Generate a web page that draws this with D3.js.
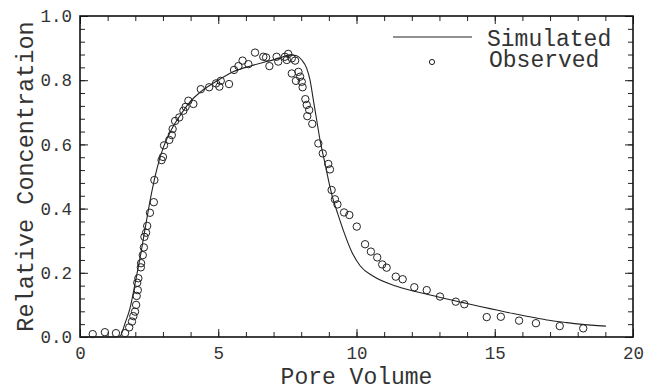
<!DOCTYPE html>
<html>
<head>
<meta charset="utf-8">
<script src="https://cdn.jsdelivr.net/npm/d3@7/dist/d3.min.js"></script>
<style>
  body { margin: 0; background: #fff; }
  text { font-family: "Liberation Mono", "Courier New", monospace; fill: #333; }
</style>
</head>
<body>
<script>
// pore volume / relative concentration, observed points
const obsX = [0.46, 0.90, 1.30, 1.63, 1.78, 1.88, 1.93, 1.99, 2.03, 2.05, 2.09, 2.07, 2.11, 2.20, 2.21, 2.27, 2.31, 2.33, 2.39, 2.43, 2.53, 2.67,
  2.69, 2.95, 3.00, 3.04, 3.23, 3.32, 3.35, 3.44, 3.59, 3.74, 3.82, 3.92, 4.10, 4.37, 4.67, 4.92, 5.09, 5.04, 5.39, 5.57, 5.73, 5.88, 6.09,
  6.33, 6.63, 6.73, 6.85, 7.11, 7.17, 7.41, 7.48, 7.53, 7.66, 7.78, 7.66, 7.90, 7.96, 7.81, 8.02, 8.05, 8.15, 8.20, 8.29, 8.22, 8.40,
  8.62, 8.78, 8.98, 9.04, 9.10, 9.22, 9.31, 9.55, 9.74, 10.01, 10.31, 10.52, 10.75, 10.93, 11.09, 11.42, 11.67, 12.09, 12.54, 13.02,
  13.59, 13.90, 14.71, 15.22, 15.88, 16.49, 17.35, 18.20];
const obsY = [0.009, 0.015, 0.012, 0.012, 0.030, 0.048, 0.065, 0.079, 0.100, 0.128, 0.146, 0.169, 0.183, 0.217, 0.230, 0.255, 0.279, 0.312, 0.325, 0.346, 0.387, 0.420,
  0.489, 0.551, 0.561, 0.597, 0.614, 0.629, 0.648, 0.673, 0.684, 0.705, 0.717, 0.736, 0.726, 0.772, 0.778, 0.790, 0.798, 0.780, 0.788, 0.832, 0.844, 0.861, 0.850,
  0.886, 0.873, 0.871, 0.844, 0.873, 0.858, 0.873, 0.863, 0.882, 0.868, 0.861, 0.821, 0.826, 0.811, 0.798, 0.795, 0.778, 0.741, 0.723, 0.707, 0.688, 0.664,
  0.603, 0.572, 0.539, 0.522, 0.458, 0.429, 0.413, 0.388, 0.380, 0.344, 0.289, 0.266, 0.248, 0.226, 0.216, 0.188, 0.180, 0.155, 0.146, 0.126,
  0.110, 0.102, 0.062, 0.063, 0.051, 0.043, 0.034, 0.027];

// simulated curve
const simX = [0, 1.2, 1.45, 1.63, 1.81, 2.0, 2.2, 2.4, 2.59, 2.8, 3.01, 3.3, 3.62, 4.0, 4.34, 5.0, 5.54, 6.2, 6.75, 7.2, 7.59, 7.84, 8.02,
  8.2, 8.32, 8.44, 8.56, 8.68, 8.86, 9.04, 9.16, 9.28, 9.52, 9.83, 10.13, 10.61, 11.45, 12.66, 13.86, 14.47, 15.07, 15.67, 16.27, 16.88,
  17.5, 18.08, 19.02];
const simY = [0, 0, 0.003, 0.043, 0.09, 0.17, 0.26, 0.36, 0.45, 0.53, 0.59, 0.645, 0.69, 0.735, 0.762, 0.800, 0.826, 0.845, 0.858, 0.868, 0.879, 0.876, 0.863,
  0.837, 0.80, 0.738, 0.676, 0.614, 0.541, 0.468, 0.427, 0.395, 0.333, 0.265, 0.222, 0.189, 0.158, 0.131, 0.107, 0.095, 0.084, 0.073, 0.063, 0.053,
  0.046, 0.040, 0.034];

const xTicks = [0, 5, 10, 15, 20];
const yTicks = [0, 0.2, 0.4, 0.6, 0.8, 1.0];
const legendLabels = ["Simulated", "Observed"];

const w = 656, h = 388;
const pL = 80, pR = 633, pT = 16, pB = 337;

const svg = d3.select("body").append("svg").attr("width", w).attr("height", h);

const x = d3.scaleLinear().domain([0, 20]).range([pL, pR]);
const y = d3.scaleLinear().domain([0, 1]).range([pB, pT]);

// minor + major ticks, all pointing inward
const xMinor = d3.range(0, 21, 1);
const yMinor = d3.range(0, 1.0001, 0.04);

function tickG(axis, pos, len) {
  return svg.append("g").attr("transform", pos).call(axis.tickSize(len).tickFormat(""))
    .call(g => g.select(".domain").remove())
    .call(g => g.selectAll("line").attr("stroke", "#222").attr("stroke-width", 1));
}
tickG(d3.axisTop(x).tickValues(xMinor), `translate(0,${pB})`, 5);
tickG(d3.axisTop(x).tickValues(xTicks), `translate(0,${pB})`, 8);
tickG(d3.axisBottom(x).tickValues(xMinor), `translate(0,${pT})`, 5);
tickG(d3.axisBottom(x).tickValues(xTicks), `translate(0,${pT})`, 8);
tickG(d3.axisRight(y).tickValues(yMinor), `translate(${pL},0)`, 5);
tickG(d3.axisRight(y).tickValues(yTicks), `translate(${pL},0)`, 8);
tickG(d3.axisLeft(y).tickValues(yMinor), `translate(${pR},0)`, 5);
tickG(d3.axisLeft(y).tickValues(yTicks), `translate(${pR},0)`, 8);

// tick labels
svg.append("g").attr("transform", `translate(0,${pB})`)
  .call(d3.axisBottom(x).tickValues(xTicks).tickSize(0).tickPadding(10).tickFormat(d3.format("d")))
  .call(g => g.select(".domain").remove())
  .selectAll("text").style("font-size", "17.5px").style("font-family", "Liberation Mono").attr("fill", "#333");

svg.append("g").attr("transform", `translate(${pL},0)`)
  .call(d3.axisLeft(y).tickValues(yTicks).tickSize(0).tickPadding(8).tickFormat(d3.format(".1f")))
  .call(g => g.select(".domain").remove())
  .selectAll("text").style("font-size", "17.5px").style("font-family", "Liberation Mono").attr("fill", "#333");

// frame
svg.append("rect")
  .attr("x", pL).attr("y", pT)
  .attr("width", pR - pL).attr("height", pB - pT)
  .attr("fill", "none").attr("stroke", "#111").attr("stroke-width", 1.6);

// simulated
const line = d3.line().x((d, i) => x(simX[i])).y((d, i) => y(simY[i])).curve(d3.curveMonotoneX);
svg.append("path").datum(simX).attr("d", line)
  .attr("fill", "none").attr("stroke", "#222").attr("stroke-width", 1.1);

// observed
svg.append("g").selectAll("circle").data(obsX).enter().append("circle")
  .attr("cx", (d) => x(d))
  .attr("cy", (d, i) => y(obsY[i]))
  .attr("r", 3.7)
  .attr("fill", "none").attr("stroke", "#222").attr("stroke-width", 1);

// legend
svg.append("line").attr("x1", 393).attr("x2", 472).attr("y1", 37).attr("y2", 37)
  .attr("stroke", "#222").attr("stroke-width", 1);
svg.append("circle").attr("cx", 432).attr("cy", 62).attr("r", 2.6)
  .attr("fill", "none").attr("stroke", "#222").attr("stroke-width", 1);
svg.append("text").attr("x", 487).attr("y", 46).style("font-size", "23px").text(legendLabels[0]);
svg.append("text").attr("x", 489).attr("y", 67).style("font-size", "23px").text(legendLabels[1]);

// axis titles
svg.append("text").attr("x", (pL + pR) / 2).attr("y", 384)
  .attr("text-anchor", "middle").style("font-size", "23px").text("Pore Volume");
svg.append("text").attr("transform", `translate(33,${(pT + pB) / 2}) rotate(-90)`)
  .attr("text-anchor", "middle").style("font-size", "23.5px").text("Relative Concentration");
</script>
</body>
</html>
